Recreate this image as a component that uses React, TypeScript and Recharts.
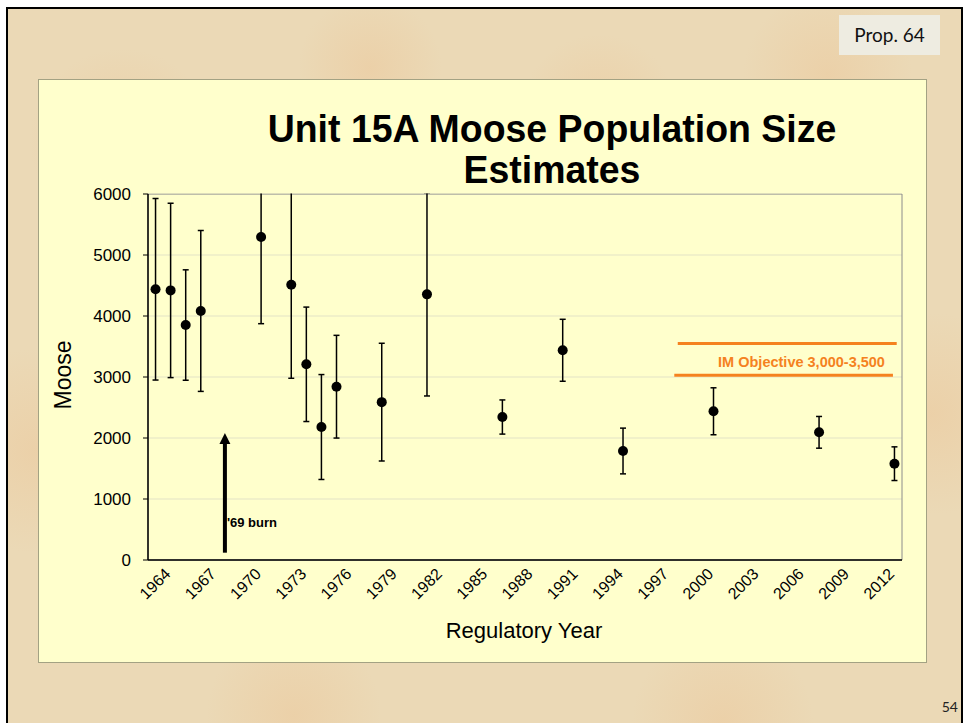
import {
  ScatterChart,
  Scatter,
  XAxis,
  YAxis,
  CartesianGrid,
  ErrorBar,
  ReferenceLine,
  ReferenceArea,
  ReferenceDot,
} from 'recharts'

// survey years and population estimates with their confidence half-widths
const years = [1964, 1965, 1966, 1967, 1971, 1973, 1974, 1975, 1976, 1979, 1982, 1987, 1991, 1995, 2001, 2008, 2013]
const estimates = [4438, 4420, 3852, 4082, 5295, 4513, 3208, 2180, 2841, 2588, 4355, 2344, 3438, 1787, 2438, 2093, 1579]
const margins = [1488, 1430, 905, 1318, 1421, 1534, 938, 860, 842, 965, 1666, 280, 508, 375, 385, 260, 276]

const yearLabels = [1964, 1967, 1970, 1973, 1976, 1979, 1982, 1985, 1988, 1991, 1994, 1997, 2000, 2003, 2006, 2009, 2012]
const yTicks = [0, 1000, 2000, 3000, 4000, 5000, 6000]

const firstYear = 1964
const lastYear = 2013
const yearBounds = Array.from({ length: lastYear - firstYear + 2 }, (_, i) => firstYear - 0.5 + i)

const objectiveLow = 3030
const objectiveHigh = 3550
const burnYear = 1968.6

const points = years.map((year, i) => ({ year, moose: estimates[i], err: margins[i] }))

const FONT = '"Liberation Sans", Arial, sans-serif'
const ORANGE = '#F5821F'

// chart box inside the yellow panel
const CW = 889
const CH = 584
const M = { top: 115, right: 25, left: 0, bottom: 42 }
const Y_W = 110

function YearTick(props: any) {
  const { x, y, payload } = props
  const ax = x + 16
  const ay = y + 14
  return (
    <text
      x={ax}
      y={ay}
      transform={`rotate(-45, ${ax}, ${ay})`}
      textAnchor="end"
      fontSize={16}
      fontFamily={FONT}
      fill="#000"
    >
      {payload.value}
    </text>
  )
}

function Dot(props: any) {
  return <circle cx={props.cx} cy={props.cy} r={5} fill="#000" />
}

function BurnArrow(props: any) {
  const { x1, y1, y2 } = props
  const top = Math.min(y1, y2)
  const bottom = Math.max(y1, y2)
  return (
    <g>
      <line x1={x1} y1={bottom} x2={x1} y2={top + 10} stroke="#000" strokeWidth={4} />
      <polygon points={`${x1 - 5.5},${top + 11} ${x1 + 5.5},${top + 11} ${x1},${top}`} fill="#000" />
    </g>
  )
}

// hide the error bars that run past 6000, keep the axis labels
const plotL = M.left + Y_W + 0.5
const plotR = CW - M.right + 1
const plotT = M.top - 0.5
const chartClip = `polygon(0px 0px, ${plotL}px 0px, ${plotL}px ${plotT}px, ${plotR}px ${plotT}px, ${plotR}px 0px, ${CW}px 0px, ${CW}px ${CH}px, 0px ${CH}px)`

const titleLine = {
  position: 'absolute' as const,
  left: 552 - 360,
  width: 720,
  whiteSpace: 'nowrap' as const,
  textAlign: 'center' as const,
  fontFamily: FONT,
  fontWeight: 'bold' as const,
  fontSize: 39,
  lineHeight: '39px',
  color: '#000',
  transform: 'scaleX(0.96)',
}

export default function App() {
  return (
    <div
      style={{
        position: 'absolute',
        left: 0,
        top: 0,
        width: 966,
        height: 723,
        overflow: 'hidden',
        background: '#fff',
      }}
    >
      <div
        style={{
          position: 'absolute',
          left: 6,
          top: 7,
          width: 957,
          height: 740,
          boxSizing: 'border-box',
          border: '2px solid #000',
          background:
            'radial-gradient(circle at 12% 18%, rgba(236,200,155,0.55), transparent 9%),' +
            'radial-gradient(circle at 38% 8%, rgba(236,200,155,0.5), transparent 8%),' +
            'radial-gradient(circle at 62% 14%, rgba(236,200,155,0.5), transparent 9%),' +
            'radial-gradient(circle at 86% 9%, rgba(236,200,155,0.5), transparent 8%),' +
            'radial-gradient(circle at 3% 60%, rgba(236,200,155,0.5), transparent 10%),' +
            'radial-gradient(circle at 97% 55%, rgba(236,200,155,0.5), transparent 10%),' +
            'radial-gradient(circle at 30% 96%, rgba(236,200,155,0.5), transparent 9%),' +
            'radial-gradient(circle at 75% 97%, rgba(236,200,155,0.5), transparent 9%),' +
            '#EBD9B6',
        }}
      />

      <div
        style={{
          position: 'absolute',
          left: 839,
          top: 15,
          width: 101,
          height: 40,
          background: '#EEECE1',
          fontFamily: 'Lato, "Open Sans", sans-serif',
          fontSize: 19,
          lineHeight: '40px',
          textAlign: 'center',
          color: '#111',
        }}
      >
        Prop. 64
      </div>

      <div
        style={{
          position: 'absolute',
          left: 930,
          top: 697,
          width: 28,
          fontFamily: 'Lato, "Open Sans", sans-serif',
          fontSize: 14,
          lineHeight: '20px',
          textAlign: 'right',
          color: '#222',
        }}
      >
        54
      </div>

      <div
        style={{
          position: 'absolute',
          left: 38,
          top: 79,
          width: CW,
          height: CH,
          boxSizing: 'border-box',
          background: '#FFFFCC',
          border: '1px solid #A3A283',
        }}
      />

      <div style={{ position: 'absolute', left: 38, top: 79, clipPath: chartClip }}>
        <ScatterChart width={CW} height={CH} data={points} margin={M}>
          <CartesianGrid horizontal vertical={false} stroke="#E3E3C6" xAxisId="z1" />
          <ReferenceArea
            xAxisId="z1"
            x1={firstYear - 0.5}
            x2={lastYear + 0.5}
            y1={0}
            y2={6000}
            fill="none"
            stroke="#8C8C8C"
            strokeWidth={1}
          />
          <XAxis
            xAxisId="z1"
            type="number"
            dataKey="year"
            domain={[firstYear - 0.5, lastYear + 0.5]}
            ticks={yearLabels}
            interval={0}
            height={60}
            allowDataOverflow
            axisLine={false}
            tickLine={false}
            tickSize={0}
            tickMargin={0}
            tick={(p: any) => <YearTick {...p} />}
          />
          <XAxis
            xAxisId="a0"
            type="number"
            domain={[firstYear - 0.5, lastYear + 0.5]}
            ticks={yearBounds}
            interval={0}
            tick={false}
            tickSize={5}
            height={1}
            allowDataOverflow
            axisLine={{ stroke: '#000', strokeWidth: 1.5 }}
            tickLine={{ stroke: '#000' }}
          />
          <YAxis
            type="number"
            dataKey="moose"
            domain={[0, 6000]}
            ticks={yTicks}
            interval={0}
            width={Y_W}
            allowDataOverflow
            tickSize={5}
            tickMargin={12}
            axisLine={{ stroke: '#000', strokeWidth: 1.5 }}
            tickLine={{ stroke: '#000' }}
            tick={{ fill: '#000', fontSize: 17, fontFamily: FONT }}
          />
          <ReferenceLine
            xAxisId="z1"
            segment={[
              { x: 1998.63, y: objectiveHigh },
              { x: 2013.15, y: objectiveHigh },
            ]}
            stroke={ORANGE}
            strokeWidth={3}
          />
          <ReferenceLine
            xAxisId="z1"
            segment={[
              { x: 1998.4, y: objectiveLow },
              { x: 2012.9, y: objectiveLow },
            ]}
            stroke={ORANGE}
            strokeWidth={3}
            label={{
              value: 'IM Objective 3,000-3,500',
              position: 'insideBottomRight',
              offset: 8,
              fill: ORANGE,
              fontSize: 14.5,
              fontWeight: 'bold',
              fontFamily: FONT,
            }}
          />
          <ReferenceLine
            xAxisId="z1"
            segment={[
              { x: burnYear, y: 120 },
              { x: burnYear, y: 2080 },
            ]}
            shape={(p: any) => <BurnArrow {...p} />}
          />
          <ReferenceDot
            xAxisId="z1"
            x={burnYear}
            y={623}
            r={0}
            fill="none"
            stroke="none"
            label={{
              value: "'69 burn",
              position: 'right',
              offset: 2,
              fill: '#000',
              fontSize: 13,
              fontWeight: 'bold',
              fontFamily: FONT,
            }}
          />
          <Scatter xAxisId="z1" dataKey="moose" fill="#000" shape={(p: any) => <Dot {...p} />} isAnimationActive={false}>
            <ErrorBar dataKey="err" direction="y" width={3} stroke="#000" strokeWidth={1.5} isAnimationActive={false} />
          </Scatter>
        </ScatterChart>
      </div>

      <div style={{ ...titleLine, top: 109 }}>Unit 15A Moose Population Size</div>
      <div style={{ ...titleLine, top: 150 }}>Estimates</div>

      <div
        style={{
          position: 'absolute',
          left: 63 - 50,
          top: 375 - 14,
          width: 100,
          height: 28,
          lineHeight: '28px',
          textAlign: 'center',
          fontFamily: FONT,
          fontSize: 23,
          color: '#000',
          transform: 'rotate(-90deg)',
        }}
      >
        Moose
      </div>

      <div
        style={{
          position: 'absolute',
          left: 524 - 120,
          top: 631 - 14,
          width: 240,
          height: 28,
          lineHeight: '28px',
          textAlign: 'center',
          fontFamily: FONT,
          fontSize: 22,
          color: '#000',
        }}
      >
        Regulatory Year
      </div>
    </div>
  )
}
